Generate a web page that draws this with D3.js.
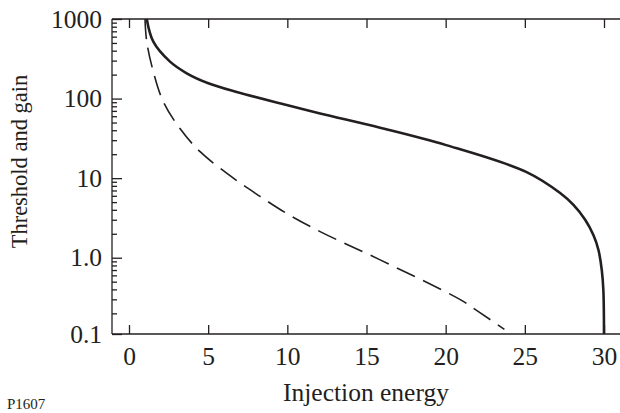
<!DOCTYPE html>
<html>
<head>
<meta charset="utf-8">
<script src="https://cdn.jsdelivr.net/npm/d3@7"></script>
<style>
  html, body { margin: 0; padding: 0; background: #fff; }
  svg { display: block; }
  text { font-family: "Liberation Serif", "DejaVu Serif", serif; fill: #231f20; }
</style>
</head>
<body>
<svg id="chart" width="620" height="413"></svg>
<script>
// ---- data ----
const xTicks = [0, 5, 10, 15, 20, 25, 30];
const yTickValues = [0.1, 1, 10, 100, 1000];
const yTickLabels = ["0.1", "1.0", "10", "100", "1000"];
const yMinorValues = [2,3,4,5,6,7,8,9].flatMap(m => [0.1, 1, 10, 100].map(d => m * d));

// solid curve
const solidX = [1.12, 1.535, 2.59, 3.645, 5.01, 6.80, 9.96, 12.07, 15.86, 20.03, 25.08, 27.23, 28.07, 28.81, 29.33, 29.65, 29.86, 29.96, 30.0];
const solidY = [1000, 519, 291, 208, 156, 121, 83, 65, 43, 26, 12, 6.5, 4.6, 3.0, 1.93, 1.25, 0.70, 0.39, 0.11];

// dashed curve
const dashedX = [1.01, 1.12, 1.535, 2.17, 3.22, 4.49, 6.59, 8.28, 9.96, 12.07, 15.86, 20.95, 22.07, 23.71];
const dashedY = [1000, 519, 218, 91, 42, 21.5, 10, 5.9, 3.6, 2.13, 0.94, 0.295, 0.21, 0.126];

const xLabel = "Injection energy";
const yLabel = "Threshold and gain";
const figId = "P1607";

// ---- layout ----
const svg = d3.select("#chart");
const plotLeft = 112, plotTop = 19, plotBottom = 334, plotRightEdge = 620;
const ink = "#231f20";

const x = d3.scaleLinear().domain([0, 30]).range([129, 604]);
const y = d3.scaleLog().domain([0.11, 1000]).range([plotBottom, plotTop]).clamp(true);

// frame lines (no right border)
svg.append("line").attr("x1", plotLeft).attr("x2", plotLeft).attr("y1", plotTop).attr("y2", plotBottom)
  .attr("stroke", ink).attr("stroke-width", 1.3);
svg.append("line").attr("x1", plotLeft).attr("x2", plotRightEdge).attr("y1", plotTop).attr("y2", plotTop)
  .attr("stroke", ink).attr("stroke-width", 1.3);
svg.append("line").attr("x1", plotLeft).attr("x2", plotRightEdge).attr("y1", plotBottom).attr("y2", plotBottom)
  .attr("stroke", ink).attr("stroke-width", 1.3);

function styleAxis(g) {
  g.select(".domain").remove();
  g.selectAll(".tick line").attr("stroke", ink).attr("stroke-width", 1.3);
}

// bottom x axis (inward ticks, labels)
const gx = svg.append("g").attr("transform", `translate(0,${plotBottom})`)
  .call(d3.axisBottom(x).tickValues(xTicks).tickSizeInner(-9).tickSizeOuter(0).tickPadding(13).tickFormat(d3.format("d")));
styleAxis(gx);
gx.selectAll(".tick text").attr("font-size", 25.5).attr("font-family", "Liberation Serif").attr("fill", ink);

// top x axis (inward ticks, no labels)
const gxt = svg.append("g").attr("transform", `translate(0,${plotTop})`)
  .call(d3.axisTop(x).tickValues(xTicks).tickSizeInner(-9).tickSizeOuter(0).tickFormat(""));
styleAxis(gxt);

// left y axis major
const gy = svg.append("g").attr("transform", `translate(${plotLeft},0)`)
  .call(d3.axisLeft(y).tickValues(yTickValues).tickSizeInner(-10).tickSizeOuter(0).tickPadding(10)
    .tickFormat((d, i) => yTickLabels[i]));
styleAxis(gy);
gy.selectAll(".tick text").attr("font-size", 25.5).attr("font-family", "Liberation Serif").attr("fill", ink);

// left y axis minor
const gym = svg.append("g").attr("transform", `translate(${plotLeft},0)`)
  .call(d3.axisLeft(y).tickValues(yMinorValues).tickSizeInner(-5).tickSizeOuter(0).tickFormat(""));
styleAxis(gym);

// curves
const solidData = solidX.map((d, i) => [d, solidY[i]]);
const dashedData = dashedX.map((d, i) => [d, dashedY[i]]);
const line = d3.line().x(d => x(d[0])).y(d => y(d[1])).curve(d3.curveCatmullRom.alpha(0.5));

svg.append("path").datum(dashedData).attr("d", line)
  .attr("fill", "none").attr("stroke", ink).attr("stroke-width", 1.6)
  .attr("stroke-dasharray", "20,9");
svg.append("path").datum(solidData).attr("d", line)
  .attr("fill", "none").attr("stroke", ink).attr("stroke-width", 2.6);

// axis titles
svg.append("text").attr("x", 366).attr("y", 401).attr("text-anchor", "middle")
  .attr("font-size", 25.5).text(xLabel);
svg.append("text").attr("transform", "translate(27,161.5) rotate(-90)").attr("text-anchor", "middle")
  .attr("font-size", 22.5).text(yLabel);
svg.append("text").attr("x", 7).attr("y", 409).attr("font-size", 15).text(figId);
</script>
</body>
</html>
